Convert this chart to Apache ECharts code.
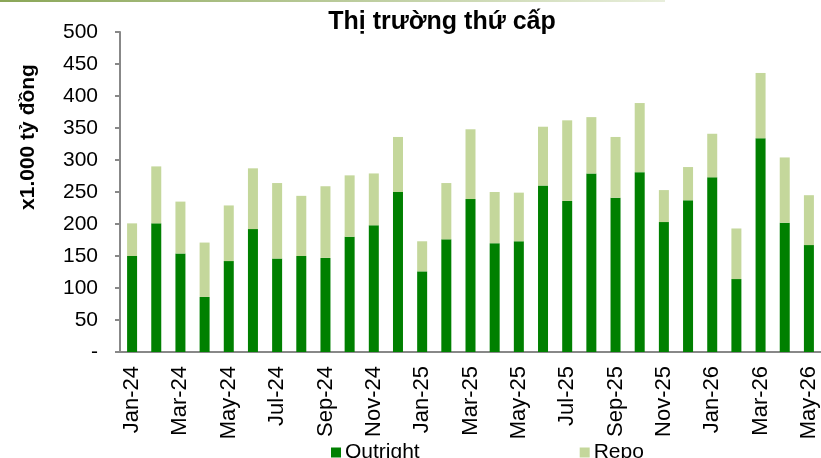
<!DOCTYPE html>
<html>
<head>
<meta charset="utf-8">
<script src="https://cdn.jsdelivr.net/npm/echarts@6/dist/echarts.min.js"></script>
<style>
  html, body { margin: 0; padding: 0; background: #fff; }
  #chart { width: 821px; height: 458px; }
</style>
</head>
<body>
<div id="chart"></div>
<script>
(function () {
  'use strict';

  const months = ['Jan-24', 'Feb-24', 'Mar-24', 'Apr-24', 'May-24', 'Jun-24', 'Jul-24', 'Aug-24', 'Sep-24', 'Oct-24', 'Nov-24', 'Dec-24',
    'Jan-25', 'Feb-25', 'Mar-25', 'Apr-25', 'May-25', 'Jun-25', 'Jul-25', 'Aug-25', 'Sep-25', 'Oct-25', 'Nov-25', 'Dec-25',
    'Jan-26', 'Feb-26', 'Mar-26', 'Apr-26', 'May-26'];
  const outright = [150, 201, 154, 86, 142, 192, 146, 150, 147, 180, 198, 250, 126, 176, 239, 170, 173, 260, 236, 279, 241, 281, 203, 237, 273, 114, 334, 202, 167];
  const repo = [51, 89, 81, 85, 87, 95, 118, 94, 112, 96, 81, 86, 47, 88, 109, 80, 76, 92, 126, 88, 95, 108, 50, 52, 68, 79, 102, 102, 78];

  const font = 'Liberation Sans, Arial, sans-serif';
  const chart = echarts.init(document.getElementById('chart'));

  chart.setOption({
    animation: false,
    textStyle: { fontFamily: font, color: '#000' },
    title: {
      text: 'Thị trường thứ cấp',
      left: 437,
      top: 5,
      textAlign: 'center',
      textStyle: { fontSize: 25, fontWeight: 'bold', color: '#000', fontFamily: font }
    },
    graphic: [
      {
        type: 'rect',
        shape: { x: 0, y: 0, width: 665, height: 2 },
        style: {
          fill: new echarts.graphic.LinearGradient(0, 0, 1, 0, [
            { offset: 0, color: '#8aa657' },
            { offset: 1, color: '#e8eedb' }
          ])
        },
        silent: true
      },
      {
        // axis title sits above the axis middle in the original
        type: 'text',
        x: 28,
        y: 137,
        rotation: Math.PI / 2,
        style: {
          text: 'x1.000 tỷ đồng',
          font: 'bold 21px ' + font,
          fill: '#000',
          align: 'center',
          verticalAlign: 'middle'
        },
        silent: true
      }
    ],
    legend: {
      left: 326,
      top: 437,
      itemWidth: 10,
      itemHeight: 10,
      itemGap: 160,
      icon: 'rect',
      textStyle: { fontSize: 21, color: '#000', fontFamily: font, padding: [0, 0, 0, -1] },
      data: ['Outright', 'Repo']
    },
    grid: { left: 120, right: -2, top: 32, bottom: 106, containLabel: false },
    xAxis: {
      type: 'category',
      data: months,
      axisLine: { lineStyle: { color: '#888', width: 2 } },
      axisTick: { length: 5, lineStyle: { color: '#888', width: 2 } },
      axisLabel: { rotate: 90, interval: 1, fontSize: 22, margin: 14, color: '#000' }
    },
    yAxis: {
      type: 'value',
      min: 0,
      max: 500,
      interval: 50,
      axisLine: { show: true, lineStyle: { color: '#888', width: 2 } },
      axisTick: { show: true, length: 5, lineStyle: { color: '#888', width: 2 } },
      splitLine: { show: false },
      axisLabel: {
        fontSize: 21,
        margin: 22,
        color: '#000',
        formatter: v => (v === 0 ? '-' : v)
      }
    },
    series: [
      {
        name: 'Outright',
        type: 'bar',
        stack: 'total',
        barWidth: 10,
        itemStyle: { color: '#008000' },
        data: outright
      },
      {
        name: 'Repo',
        type: 'bar',
        stack: 'total',
        barWidth: 10,
        itemStyle: { color: '#c4d79b' },
        data: repo
      }
    ]
  });
})();
</script>
</body>
</html>
